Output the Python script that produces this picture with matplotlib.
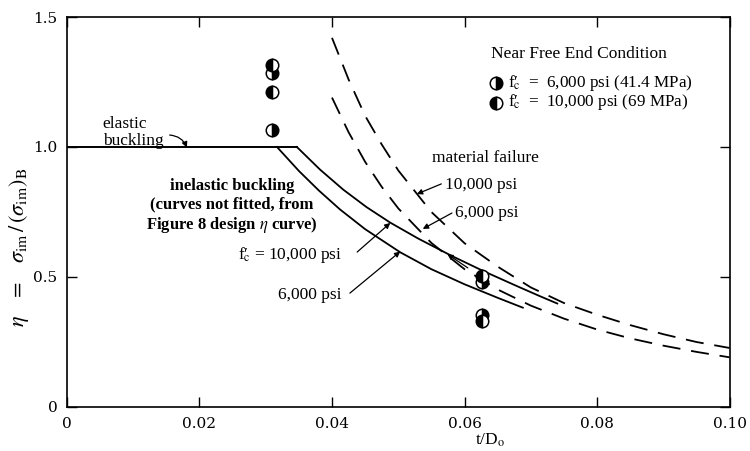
import matplotlib
matplotlib.use("Agg")
import matplotlib.pyplot as plt

plt.rcParams["font.family"] = ["Liberation Serif", "DejaVu Serif"]
plt.rcParams["mathtext.fontset"] = "stix"

# Elastic buckling plateau
elastic_x = [0.0, 0.0347]
elastic_eta = [1.0, 1.0]

# Inelastic buckling curves (solid)
inel10_x = [0.0347, 0.0382, 0.0417, 0.0452, 0.0488, 0.053, 0.058, 0.063,
            0.068, 0.0714, 0.074]
inel10_eta = [1.0, 0.913, 0.836, 0.769, 0.709, 0.648, 0.582, 0.521,
              0.464, 0.426, 0.398]
inel6_x = [0.0317, 0.035, 0.038, 0.0412, 0.045, 0.0503, 0.055, 0.060,
           0.0626, 0.065, 0.0688]
inel6_eta = [1.0, 0.908, 0.833, 0.760, 0.684, 0.595, 0.530, 0.472,
             0.445, 0.420, 0.382]

# Material failure curves (dashed)
mat_x = [0.040, 0.0425, 0.045, 0.0475, 0.050, 0.055, 0.060, 0.065, 0.070,
         0.075, 0.080, 0.085, 0.090, 0.095, 0.100]
mat10_eta = [1.42, 1.26, 1.12, 1.01, 0.91, 0.75, 0.63, 0.54, 0.46,
             0.40, 0.355, 0.315, 0.28, 0.25, 0.227]
mat6_eta = [1.19, 1.057, 0.943, 0.847, 0.764, 0.631, 0.53, 0.452, 0.39,
            0.34, 0.298, 0.264, 0.236, 0.212, 0.191]

# Test results, near free end condition
test6_x = [0.0309, 0.0309, 0.0626, 0.0626]
test6_eta = [1.285, 1.065, 0.48, 0.355]
test10_x = [0.0309, 0.0309, 0.0626, 0.0626]
test10_eta = [1.315, 1.21, 0.505, 0.33]

x_ticks = [0, 0.02, 0.04, 0.06, 0.08, 0.10]
x_tick_labels = ["0", "0.02", "0.04", "0.06", "0.08", "0.10"]
y_ticks = [0, 0.5, 1.0, 1.5]
y_tick_labels = ["0", "0.5", "1.0", "1.5"]

fig = plt.figure(figsize=(7.5, 4.51), dpi=100)
ax = fig.add_axes([0.0893, 0.0976, 0.8834, 0.8647])
ax.set_xlim(0, 0.10)
ax.set_ylim(0, 1.5)

k = "black"
ax.plot(elastic_x, elastic_eta, color=k, lw=1.4)
ax.plot(inel10_x, inel10_eta, color=k, lw=1.3)
ax.plot(inel6_x, inel6_eta, color=k, lw=1.3)
ax.plot(mat_x, mat10_eta, color=k, lw=1.3, dashes=(10, 6))
ax.plot(mat_x, mat6_eta, color=k, lw=1.3, dashes=(10, 6))

mk = dict(linestyle="none", marker="o", markersize=9, markeredgecolor=k,
          markeredgewidth=1.1, markerfacecolor=k, markerfacecoloralt="white")
ax.plot(test6_x, test6_eta, fillstyle="right", **mk)
ax.plot(test10_x, test10_eta, fillstyle="left", **mk)

ax.set_xticks(x_ticks)
ax.set_xticklabels(x_tick_labels, family="DejaVu Serif")
ax.set_yticks(y_ticks)
ax.set_yticklabels(y_tick_labels, family="DejaVu Serif")
ax.tick_params(direction="in", length=7.5, width=1.0, top=True, right=True,
               labelsize=11, pad=7, colors=k)
for s in ax.spines.values():
    s.set_linewidth(1.2)

fs = 12.5
fc = r"f′$_{\!\!\!\mathrm{c}}$"
arrow = dict(arrowstyle="-|>", color=k, lw=0.9, mutation_scale=8,
             shrinkA=0, shrinkB=0)

ax.text(0.0054, 1.056, "elastic\nbuckling", fontsize=fs, ha="left",
        va="center", linespacing=1.15)
ax.annotate("", xy=(0.0181, 0.998), xytext=(0.0155, 1.046),
            arrowprops=dict(arrow, connectionstyle="arc3,rad=-0.3"))

ax.text(0.0249, 0.77,
        "inelastic buckling\n(curves not fitted, from\n"
        r"Figure 8 design $\eta$ curve)",
        fontsize=12, fontweight="bold", ha="center", va="center",
        linespacing=1.2)

ax.text(0.0415, 0.585, fc + " = 10,000 psi", fontsize=fs,
        ha="right", va="center")
ax.annotate("", xy=(0.0488, 0.708), xytext=(0.0438, 0.596), arrowprops=arrow)
ax.text(0.0415, 0.431, "6,000 psi", fontsize=fs, ha="right", va="center")
ax.annotate("", xy=(0.0503, 0.598), xytext=(0.0427, 0.438), arrowprops=arrow)

# arrowhead near the upper test points
ax.annotate("", xy=(0.0574, 0.588), xytext=(0.0605, 0.535), arrowprops=arrow)

ax.text(0.0551, 0.958, "material failure", fontsize=fs, ha="left",
        va="center")
ax.text(0.0571, 0.854, "10,000 psi", fontsize=fs, ha="left", va="center")
ax.annotate("", xy=(0.0528, 0.819), xytext=(0.0565, 0.858), arrowprops=arrow)
ax.text(0.0586, 0.746, "6,000 psi", fontsize=fs, ha="left", va="center")
ax.annotate("", xy=(0.0537, 0.685), xytext=(0.0581, 0.746), arrowprops=arrow)

ax.text(0.064, 1.358, "Near Free End Condition", fontsize=fs, ha="left",
        va="center")
ax.plot([0.0648], [1.245], fillstyle="right", **mk)
ax.plot([0.0648], [1.170], fillstyle="left", **mk)
ax.text(0.0666, 1.248, fc + "  =  6,000 psi (41.4 MPa)",
        fontsize=12.3, ha="left", va="center")
ax.text(0.0666, 1.172, fc + "  =  10,000 psi (69 MPa)",
        fontsize=12.3, ha="left", va="center")

fig.text(19 / 750, 1 - 247 / 451,
         r"$\eta\ \ \ =\ \ \ \sigma_{\rm im}\,/\,(\sigma_{\rm im})_{\rm B}$",
         rotation=90, fontsize=16, ha="center", va="center")
fig.text(490 / 750, 1 - 440 / 451, r"t/D$_{\rm o}$", fontsize=fs,
         ha="center", va="center")

fig.savefig("out.png", dpi=100, facecolor="white")
